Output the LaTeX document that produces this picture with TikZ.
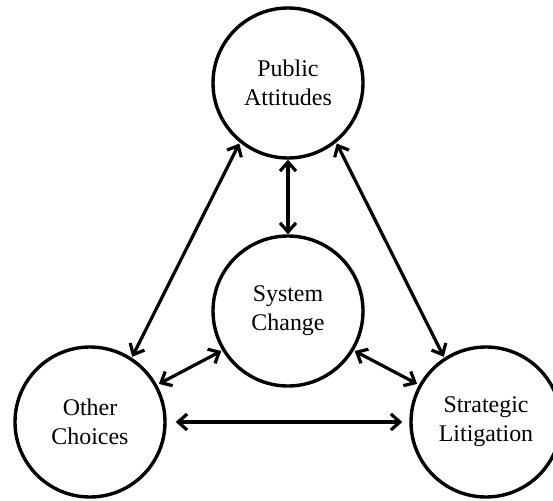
\documentclass[tikz,border=0pt]{standalone}
\usepackage{xcolor}
\usepackage{fontspec}
\setmainfont{Liberation Serif}
\usepackage{tikz}
\usetikzlibrary{arrows.meta}

\begin{document}
\begin{tikzpicture}[x=1bp,y=-1bp,
  topic/.style={draw, circle, line width=3.4bp, minimum size=150bp, inner sep=0pt,
    align=center, font=\fontsize{24}{29}\selectfont},
  link/.style={line width=3.2bp, {Straight Barb[length=9bp,width=16bp]}-{Straight Barb[length=9bp,width=16bp]}}]
\useasboundingbox (0,0) rectangle (553,501);

\node[topic] (pub) at (288,83) {Public\\Attitudes};
\node[topic] (sys) at (288,311) {System\\Change};
\node[topic] (oth) at (90,422) {Other\\Choices};
\node[topic] (str) at (486,422) {Strategic\\Litigation};

\draw[link] (pub.south) -- (sys.north);
\draw[link, shorten <=1bp, shorten >=1bp] (oth.57) -- (pub.231);
\draw[link, shorten <=1bp, shorten >=1bp] (str.123) -- (pub.309);
\draw[link, shorten <=2bp, shorten >=1bp] (oth.29) -- (sys.211);
\draw[link, shorten <=2bp, shorten >=1bp] (str.151) -- (sys.329);
\draw[link, shorten <=9bp, shorten >=7bp] (oth.east) -- (str.west);
\end{tikzpicture}
\end{document}
